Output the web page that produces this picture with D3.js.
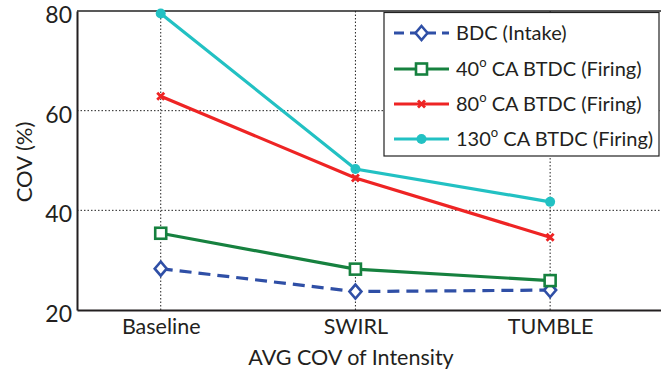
<!DOCTYPE html>
<html>
<head>
<meta charset="utf-8">
<script src="https://cdn.jsdelivr.net/npm/d3@7"></script>
<style>
  html, body { margin: 0; padding: 0; background: #fff; }
  svg { display: block; }
  text { font-family: Lato, "Open Sans", sans-serif; fill: #231f20; }
</style>
</head>
<body>
<svg id="chart" width="661" height="374"></svg>
<script>
// Intake-flow configurations along the x axis
const categories = ["Baseline", "SWIRL", "TUMBLE"];

// COV (%) of the averaged intensity, per measurement timing
const bdcIntake   = [28.3, 23.7, 24.0];
const ca40Firing  = [35.4, 28.2, 25.9];
const ca80Firing  = [62.9, 46.5, 34.6];
const ca130Firing = [79.5, 48.3, 41.7];

const yTicks = [20, 40, 60, 80];

const seriesNames = [
  { base: "BDC (Intake)", deg: null },
  { base: "40", deg: " CA BTDC (Firing)" },
  { base: "80", deg: " CA BTDC (Firing)" },
  { base: "130", deg: " CA BTDC (Firing)" }
];

const series = [
  { values: bdcIntake,   color: "#2f4fa6", dash: "12,7", marker: "diamond" },
  { values: ca40Firing,  color: "#16813f", dash: null,   marker: "square" },
  { values: ca80Firing,  color: "#ee2424", dash: null,   marker: "cross" },
  { values: ca130Firing, color: "#22c1c3", dash: null,   marker: "circle" }
];

const svg = d3.select("#chart");
const plot = { left: 77, right: 680, top: 11, bottom: 310 };

const x = d3.scaleLinear().domain([0.57, 3.667]).range([plot.left, plot.right]);
const y = d3.scaleLinear().domain([20, 80]).range([plot.bottom, plot.top]);

// grid
const grid = svg.append("g").attr("stroke", "#222").attr("stroke-width", 1)
  .attr("stroke-dasharray", "1.5,2");
yTicks.filter(t => t > 20 && t < 80).forEach(t => {
  grid.append("line").attr("x1", plot.left).attr("x2", plot.right)
    .attr("y1", y(t)).attr("y2", y(t));
});
categories.forEach((c, i) => {
  grid.append("line").attr("x1", x(i + 1)).attr("x2", x(i + 1))
    .attr("y1", plot.top).attr("y2", plot.bottom);
});

// frame
svg.append("line").attr("x1", plot.left).attr("x2", plot.right)
  .attr("y1", plot.top).attr("y2", plot.top).attr("stroke", "#222").attr("stroke-width", 1.5);

const yAxis = d3.axisLeft(y).tickValues(yTicks).tickSize(0).tickPadding(5);
const yg = svg.append("g").attr("transform", `translate(${plot.left},0)`).call(yAxis);
yg.select(".domain").attr("stroke", "#231f20").attr("stroke-width", 2);
yg.selectAll("text").attr("font-size", 23).attr("dy", "0.5em")
  .style("font-family", "Lato, sans-serif").attr("fill", "#231f20");

const xAxis = d3.axisBottom(x).tickValues([1, 2, 3]).tickFormat(d => categories[d - 1])
  .tickSize(0).tickPadding(9);
const xg = svg.append("g").attr("transform", `translate(0,${plot.bottom})`).call(xAxis);
xg.select(".domain").attr("stroke", "#231f20").attr("stroke-width", 2);
xg.selectAll("text").attr("font-size", 21.5).style("font-family", "Lato, sans-serif").attr("fill", "#231f20");

// axis titles
svg.append("text").attr("x", 351).attr("y", 365).attr("text-anchor", "middle")
  .attr("font-size", 21.5).text("AVG COV of Intensity");
svg.append("text").attr("transform", "translate(32,162) rotate(-90)")
  .attr("text-anchor", "middle").attr("font-size", 22).text("COV (%)");

// marker painter
function drawMarker(g, kind, cx, cy, color) {
  if (kind === "diamond") {
    g.append("path").attr("d", `M${cx},${cy - 7}L${cx + 6},${cy}L${cx},${cy + 7}L${cx - 6},${cy}Z`)
      .attr("fill", "#fff").attr("stroke", color).attr("stroke-width", 2.6);
  } else if (kind === "square") {
    g.append("rect").attr("x", cx - 5.5).attr("y", cy - 5.5).attr("width", 11).attr("height", 11)
      .attr("fill", "#fff").attr("stroke", color).attr("stroke-width", 2.6);
  } else if (kind === "cross") {
    g.append("path").attr("d", `M${cx - 3.5},${cy - 3.5}L${cx + 3.5},${cy + 3.5}M${cx - 3.5},${cy + 3.5}L${cx + 3.5},${cy - 3.5}`)
      .attr("stroke", color).attr("stroke-width", 2.8).attr("fill", "none");
  } else {
    g.append("circle").attr("cx", cx).attr("cy", cy).attr("r", 5).attr("fill", color);
  }
}

const line = d3.line().x((d, i) => x(i + 1)).y(d => y(d));
series.forEach(s => {
  const g = svg.append("g");
  g.append("path").datum(s.values).attr("d", line).attr("fill", "none")
    .attr("stroke", s.color).attr("stroke-width", 3.2)
    .attr("stroke-dasharray", s.dash);
  s.values.forEach((v, i) => drawMarker(g, s.marker, x(i + 1), y(v), s.color));
});

// legend
const lg = svg.append("g");
lg.append("rect").attr("x", 384).attr("y", 12.5).attr("width", 275).attr("height", 143.5)
  .attr("fill", "#fff").attr("stroke", "#222").attr("stroke-width", 1.2);
const rowY = [33, 69, 104, 139];
series.forEach((s, i) => {
  const yy = rowY[i];
  lg.append("line").attr("x1", 394).attr("x2", 449).attr("y1", yy).attr("y2", yy)
    .attr("stroke", s.color).attr("stroke-width", 3.2).attr("stroke-dasharray", s.dash ? "10,6" : null);
  drawMarker(lg, s.marker, 421.5, yy, s.color);
  const t = lg.append("text").attr("x", 456).attr("y", yy + 7).attr("font-size", 20);
  const n = seriesNames[i];
  t.append("tspan").text(n.base);
  if (n.deg) {
    t.append("tspan").attr("dy", -9).attr("font-size", 13).text("o");
    t.append("tspan").attr("dy", 9).text(n.deg);
  }
});
</script>
</body>
</html>
